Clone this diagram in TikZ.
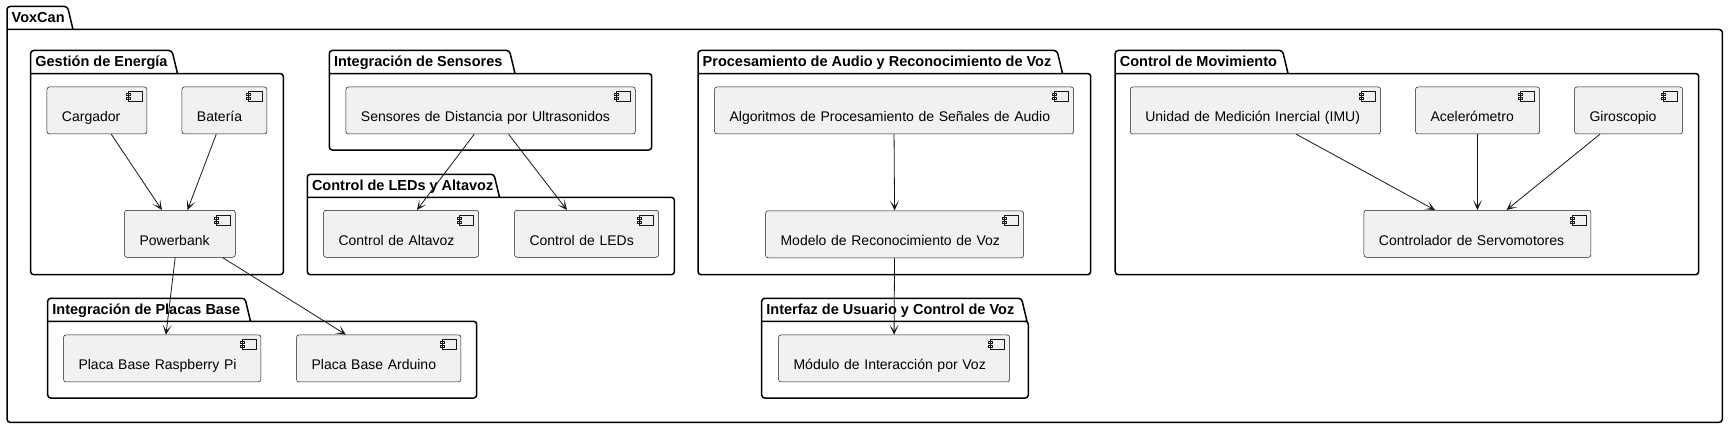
\documentclass[tikz,border=0pt]{standalone}
\usepackage{fontspec}
\setmainfont{Liberation Sans}
\usepackage{tikz}
\usetikzlibrary{arrows.meta}
\definecolor{CompFill}{RGB}{241,241,241}
\definecolor{LineDark}{RGB}{24,24,24}

% folder shaped package: #1 name, #2 title, #3 left, #4 top, #5 tab end, #6 right, #7 bottom
\newcommand{\umlpackage}[7]{%
  \draw[pkg] (#3,#4+23) -- (#6,#4+23) -- (#6,#7) -- (#3,#7) -- (#3,#4) -- (#5,#4) -- (#5+5.5,#4+23);
  \node[pkgtitle] (#1) at (#3+4.5,#4+16) {#2};
}

\begin{document}
\begin{tikzpicture}[
    x=1pt, y=-1pt,
    pkg/.style={draw=black, line width=1.5pt, rounded corners=3pt, line join=round},
    pkgtitle/.style={anchor=base west, inner sep=0pt, font=\fontsize{14.5}{17}\selectfont\bfseries},
    comp/.style={
      draw=LineDark, fill=CompFill, line width=0.5pt, rounded corners=2.5pt,
      anchor=north west, inner xsep=15pt, inner ysep=0pt,
      text width=#1, align=left, text height=35pt, text depth=12pt,
      font=\fontsize{14}{17}\selectfont,
      path picture={
        \draw[sharp corners, draw=LineDark, line width=0.5pt, fill=CompFill]
          ([xshift=-19pt,yshift=-4.5pt]path picture bounding box.north east) rectangle ++(14pt,-10pt)
          ([xshift=-21pt,yshift=-6.5pt]path picture bounding box.north east) rectangle ++(4pt,-2pt)
          ([xshift=-21pt,yshift=-10.5pt]path picture bounding box.north east) rectangle ++(4pt,-2pt);
      }
    },
    arr/.style={-{Stealth[length=10pt, width=9pt, inset=6pt]}, draw=LineDark, line width=0.8pt}
  ]
    \path[use as bounding box, fill=white] (0,0) rectangle (1728,428);

    % packages
    \umlpackage{voxcan}{VoxCan}{7}{6.5}{67.5}{1722.3}{422.3}
    \umlpackage{energia}{Gestión de Energía}{30.7}{50.5}{172}{283.3}{274.7}
    \umlpackage{sensores}{Integración de Sensores}{329.3}{50.5}{509.5}{651.7}{150}
    \umlpackage{leds}{Control de LEDs y Altavoz}{307.3}{174.3}{494}{674.3}{274.7}
    \umlpackage{placas}{Integración de Placas Base}{47.7}{298.3}{245}{476.7}{398}
    \umlpackage{audio}{Procesamiento de Audio y Reconocimiento de Voz}{698}{50.5}{1057}{1090.7}{274.7}
    \umlpackage{interfaz}{Interfaz de Usuario y Control de Voz}{761.7}{298.3}{1021.5}{1028.3}{398}
    \umlpackage{movimiento}{Control de Movimiento}{1115.2}{50.5}{1282.5}{1698.7}{274.7}

    % components
    \node[comp=70pt] (carg) at (46.7,86.7) {Cargador};
    \node[comp=55pt] (bat) at (181.7,86.7) {Batería};
    \node[comp=80.7pt] (pwr) at (124.3,210) {Powerbank};
    \node[comp=259.3pt] (sens) at (345.7,86.7) {Sensores de Distancia por Ultrasonidos};
    \node[comp=125pt] (alt) at (323.3,210) {Control de Altavoz};
    \node[comp=114pt] (led) at (514.3,210) {Control de LEDs};
    \node[comp=167.4pt] (rpi) at (63.3,334.7) {Placa Base Raspberry Pi};
    \node[comp=134.4pt] (ard) at (296.3,334.7) {Placa Base Arduino};
    \node[comp=329pt] (alg) at (714.3,86.7) {Algoritmos de Procesamiento de Señales de Audio};
    \node[comp=228pt] (mod) at (765.3,210.5) {Modelo de Reconocimiento de Voz};
    \node[comp=201pt] (inter) at (778.3,334.7) {Módulo de Interacción por Voz};
    \node[comp=220.3pt] (imu) at (1130,86.7) {Unidad de Medición Inercial (IMU)};
    \node[comp=94pt] (acel) at (1415.3,86.7) {Acelerómetro};
    \node[comp=78pt] (giro) at (1574.3,86.7) {Giroscopio};
    \node[comp=197pt] (servo) at (1363.7,210) {Controlador de Servomotores};

    % connections
    \draw[arr] ([xshift=14.3pt]carg.south) -- ([xshift=-18pt]pwr.north);
    \draw[arr] ([xshift=-8.2pt]bat.south) -- ([xshift=7.6pt]pwr.north);
    \draw[arr] ([xshift=-4.7pt]pwr.south) -- ([xshift=3.7pt]rpi.north);
    \draw[arr] ([xshift=42.6pt]pwr.south) -- ([xshift=-32.8pt]ard.north);
    \draw[arr] ([xshift=-16.4pt]sens.south) -- ([xshift=15.9pt]alt.north);
    \draw[arr] ([xshift=18pt]sens.south) -- ([xshift=-19.6pt]led.north);
    \draw[arr] (alg.south) -- (mod.north);
    \draw[arr] (mod.south) -- (inter.north);
    \draw[arr] ([xshift=40.8pt]imu.south) -- ([xshift=-42.5pt]servo.north);
    \draw[arr] (acel.south) -- (servo.north);
    \draw[arr] ([xshift=-28.6pt]giro.south) -- ([xshift=29.1pt]servo.north);
\end{tikzpicture}
\end{document}
